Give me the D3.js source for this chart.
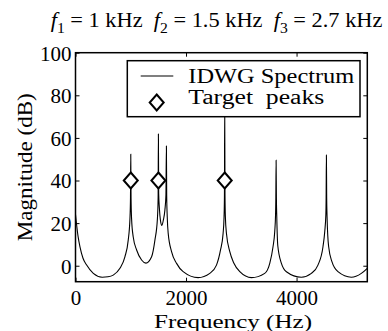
<!DOCTYPE html>
<html>
<head>
<meta charset="utf-8">
<script src="https://cdn.jsdelivr.net/npm/d3@7"></script>
<style>
  body { margin: 0; background: #fff; }
  text { font-family: "Liberation Serif", "Times New Roman", serif; fill: #000; }
</style>
</head>
<body>
<div id="chart"></div>
<script>
// IDWG spectrum (Hz, dB)
const freqHz = [0, 45, 81, 136, 202, 322, 484, 587, 683, 804, 894, 954, 985, 995, 1000, 1005, 1015, 1044,
  1106, 1196, 1274, 1377, 1437, 1482, 1495, 1500, 1505, 1518, 1536, 1563, 1590, 1617, 1636, 1645, 1650,
  1660, 1677, 1738, 1829, 1948, 2219, 2430, 2551, 2624, 2671, 2688, 2695, 2700, 2705, 2712, 2732, 2792,
  2864, 2973, 3184, 3424, 3515, 3574, 3605, 3620, 3625, 3630, 3635, 3642, 3660, 3726, 3816, 4087, 4268,
  4387, 4478, 4510, 4530, 4535, 4540, 4545, 4552, 4565, 4581, 4640, 4749, 4991, 5172, 5280];
const magDb = [24, 14, 8.9, 3.5, 0.3, -3.6, -5.4, -5.2, -4.4, -1.2, 4.2, 12, 22, 32, 52.3, 32, 22, 13.6,
  7.4, 2.7, 1.2, 4.2, 12, 22, 32, 61.8, 34, 27, 21.5, 18.9, 21.5, 26, 33, 56.2, 33,
  23, 15.3, 6.6, 1.1, -2.8, -5.6, -3.6, 0.3, 7.4, 15.2, 23, 33, 75, 33, 23, 15, 6.6,
  1.3, -2.8, -5.6, -3.6, 1.1, 8.9, 16, 24, 32, 49.5, 32, 23, 9.5, 1.1, -2.8, -5.4, -3.6,
  0.3, 8.9, 16, 24, 32, 51.9, 32, 23, 14, 8.9, 1.9, -2.8, -5.4, -3.6, -1.2];

// target peaks
const peakHz = [1000, 1500, 2700];
const peakDb = [40, 40, 40];

const xTicks = [0, 2000, 4000];
const yTicks = [0, 20, 40, 60, 80, 100];

const W = 388, H = 331;
const margin = {top: 52.7, right: 20.7, bottom: 49.3, left: 75.5};
const fontSize = 20;
const tickFont = 21;

let svg = d3.select("#chart")
    .append("svg")
    .attr("width", W)
    .attr("height", H);

let x = d3.scaleLinear()
    .domain([0, 5280])
    .range([margin.left, W - margin.right]);

let y = d3.scaleLinear()
    .domain([-7.5, 100])
    .range([H - margin.bottom, margin.top]);

let spectrum = freqHz.map((f, i) => ({f: f, db: magDb[i]}));
let peaks = peakHz.map((f, i) => ({f: f, db: peakDb[i]}));

// clip so the curve stays inside the box
svg.append("clipPath").attr("id", "clip")
    .append("rect")
    .attr("x", x.range()[0]).attr("y", y.range()[1])
    .attr("width", x.range()[1] - x.range()[0])
    .attr("height", y.range()[0] - y.range()[1]);

// spectrum line
let line = d3.line()
    .x(d => x(d.f))
    .y(d => y(d.db))
    .curve(d3.curveMonotoneX);

svg.append("path")
    .datum(spectrum)
    .attr("clip-path", "url(#clip)")
    .attr("fill", "none")
    .attr("stroke", "#000")
    .attr("stroke-width", 1.1)
    .attr("d", line);

// diamond markers
const diamond = "M0,-8L7,0L0,8L-7,0Z";
svg.append("g")
    .selectAll("path")
    .data(peaks)
    .enter()
    .append("path")
    .attr("transform", d => "translate(" + x(d.f) + "," + y(d.db) + ")")
    .attr("d", diamond)
    .attr("fill", "#fff")
    .attr("stroke", "#000")
    .attr("stroke-width", 2);

// axes, ticks pointing inward on all four sides
let xAxis = svg.append("g")
    .attr("transform", "translate(0," + y.range()[0] + ")")
    .call(d3.axisBottom(x).tickValues(xTicks).tickSize(-4).tickPadding(0).tickFormat(d3.format("d")));
xAxis.selectAll("text").attr("y", 23.8).attr("dy", null);

svg.append("g")
    .attr("transform", "translate(0," + y.range()[1] + ")")
    .call(d3.axisTop(x).tickValues(xTicks).tickSize(-4).tickFormat(""));

let yAxis = svg.append("g")
    .attr("transform", "translate(" + x.range()[0] + ",0)")
    .call(d3.axisLeft(y).tickValues(yTicks).tickSize(-4).tickPadding(4));
yAxis.selectAll("text").attr("dy", "0.35em");

svg.append("g")
    .attr("transform", "translate(" + x.range()[1] + ",0)")
    .call(d3.axisRight(y).tickValues(yTicks).tickSize(-4).tickFormat(""));

svg.selectAll(".domain").remove();
svg.selectAll(".tick line").attr("stroke", "#000").attr("stroke-width", 1);
svg.selectAll(".tick text")
    .style("font-size", tickFont + "px")
    .style("font-family", "'Liberation Serif', 'Times New Roman', serif");

// frame
svg.append("rect")
    .attr("x", x.range()[0]).attr("y", y.range()[1])
    .attr("width", x.range()[1] - x.range()[0])
    .attr("height", y.range()[0] - y.range()[1])
    .attr("fill", "none")
    .attr("stroke", "#000")
    .attr("stroke-width", 1.5);

// legend
let lg = svg.append("g");
lg.append("rect")
    .attr("x", 127.3).attr("y", 60.7)
    .attr("width", 232.7).attr("height", 56)
    .attr("fill", "#fff")
    .attr("stroke", "#000")
    .attr("stroke-width", 1.5);
lg.append("line")
    .attr("x1", 140.7).attr("x2", 173.3)
    .attr("y1", 76).attr("y2", 76)
    .attr("stroke", "#000").attr("stroke-width", 1.1);
lg.append("path")
    .attr("transform", "translate(156.7,102.5)")
    .attr("d", diamond)
    .attr("fill", "#fff")
    .attr("stroke", "#000")
    .attr("stroke-width", 2);
lg.append("text")
    .attr("x", 188.3).attr("y", 82.5)
    .attr("textLength", 166).attr("lengthAdjust", "spacingAndGlyphs")
    .style("font-size", fontSize + "px")
    .text("IDWG Spectrum");
lg.append("text")
    .attr("x", 188.3).attr("y", 104)
    .attr("textLength", 136).attr("lengthAdjust", "spacingAndGlyphs")
    .style("font-size", fontSize + "px")
    .style("white-space", "pre")
    .text("Target  peaks");

// axis labels
svg.append("text")
    .attr("x", 154).attr("y", 327.5)
    .attr("textLength", 158).attr("lengthAdjust", "spacingAndGlyphs")
    .style("font-size", "19px")
    .text("Frequency (Hz)");

svg.append("text")
    .attr("transform", "translate(32," + (y.range()[0] + y.range()[1]) / 2 + ") rotate(-90)")
    .attr("text-anchor", "middle")
    .attr("textLength", 148).attr("lengthAdjust", "spacingAndGlyphs")
    .style("font-size", fontSize + "px")
    .text("Magnitude (dB)");

// title with italic f and subscripts
let title = svg.append("text")
    .attr("x", 50.7).attr("y", 27)
    .style("font-size", fontSize + "px")
    .style("white-space", "pre");
const parts = [["1", " = 1 kHz  "], ["2", " = 1.5 kHz  "], ["3", " = 2.7 kHz"]];
parts.forEach(p => {
    title.append("tspan").style("font-style", "italic").attr("dy", 0).text("f");
    title.append("tspan").style("font-size", "14px").attr("dy", 6).text(p[0]);
    title.append("tspan").attr("dy", -6).text(p[1]);
});
// stretch the title to its width in the picture
let tw = title.node().getBBox().width;
title.attr("transform", "translate(50.7,0) scale(" + (332 / tw) + ",1) translate(-50.7,0)");
</script>
</body>
</html>
